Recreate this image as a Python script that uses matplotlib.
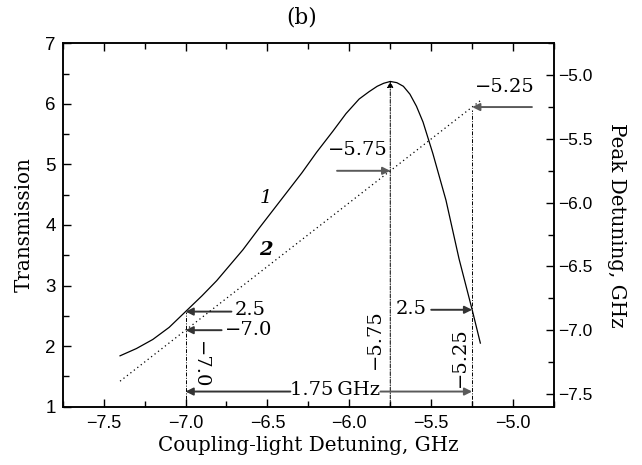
import matplotlib
matplotlib.use("Agg")
import matplotlib.pyplot as plt
from matplotlib.ticker import MultipleLocator, FixedLocator

# ---- data ----
coupling_x = [-7.40, -7.30, -7.20, -7.10, -7.00, -6.90, -6.81, -6.65, -6.55, -6.45, -6.29,
              -6.20, -6.10, -6.02, -5.94, -5.88, -5.83, -5.79, -5.75, -5.71, -5.67, -5.63,
              -5.59, -5.55, -5.49, -5.41, -5.33, -5.25, -5.20]
transmission = [1.84, 1.96, 2.11, 2.31, 2.57, 2.83, 3.08, 3.59, 3.95, 4.30, 4.86,
                5.20, 5.55, 5.84, 6.08, 6.20, 6.29, 6.34, 6.37, 6.35, 6.29, 6.16,
                5.96, 5.70, 5.18, 4.41, 3.44, 2.60, 2.05]
line2_x = [-7.40, -5.20]
peak_detuning = [-7.40, -5.20]

xticks = [-7.5, -7.0, -6.5, -6.0, -5.5, -5.0]
yticks_left = [1, 2, 3, 4, 5, 6, 7]
yticks_right = [-7.5, -7.0, -6.5, -6.0, -5.5, -5.0]

SERIF = ["DejaVu Serif"]
TICKF = ["Liberation Sans"]

fig = plt.figure(figsize=(6.42, 4.65), dpi=100)
ax = fig.add_axes([0.0977, 0.1254, 0.7653, 0.7815])
ax2 = ax.twinx()

ax.set_xlim(-7.75, -4.75)
ax.set_ylim(1, 7)
ax2.set_ylim(-7.6, -4.75)

for a in (ax, ax2):
    for s in a.spines.values():
        s.set_linewidth(1.1)

ax.plot(coupling_x, transmission, color="black", lw=0.9)
ax2.plot(line2_x, peak_detuning, color="black", lw=0.9, linestyle=(0, (1, 2.5)))

# ticks
ax.xaxis.set_major_locator(FixedLocator(xticks))
ax.xaxis.set_minor_locator(MultipleLocator(0.25))
ax.yaxis.set_major_locator(FixedLocator(yticks_left))
ax.yaxis.set_minor_locator(MultipleLocator(0.5))
ax2.yaxis.set_major_locator(FixedLocator(yticks_right))
ax2.yaxis.set_minor_locator(MultipleLocator(0.25))

ax.tick_params(axis="x", which="both", direction="in", top=True, bottom=True, width=1.0)
ax.tick_params(axis="x", which="major", length=6, pad=6)
ax.tick_params(axis="x", which="minor", length=4)
ax.tick_params(axis="y", which="both", direction="in", left=True, right=False, width=1.0)
ax.tick_params(axis="y", which="major", length=6, pad=5)
ax.tick_params(axis="y", which="minor", length=4)
ax2.tick_params(axis="y", which="both", direction="in", right=True, left=False, width=1.0)
ax2.tick_params(axis="y", which="major", length=6, pad=3)
ax2.tick_params(axis="y", which="minor", length=4)

ax.set_xticklabels(["\u2212%.1f" % abs(v) for v in xticks], family=TICKF, fontsize=13)
ax.set_yticklabels([str(v) for v in yticks_left], family=TICKF, fontsize=13.5)
ax2.set_yticklabels(["\u2212%.1f" % abs(v) for v in yticks_right], family=TICKF, fontsize=12.5)

ax.set_xlabel("Coupling-light Detuning, GHz", family=SERIF, fontsize=14.3, labelpad=3)
ax.set_ylabel("Transmission", family=SERIF, fontsize=14.3, labelpad=8)
ax2.set_ylabel("Peak Detuning, GHz", family=SERIF, fontsize=14.3, rotation=270, labelpad=24)

fig.text(301.7 / 642, 1 - 17.5 / 465, "(b)", family=SERIF, fontsize=15.5, ha="center", va="center")

DD = (0, (4, 1.5, 1, 1.5))
# vertical dash-dot lines
ax.plot([-7.0, -7.0], [1, 2.57], color="black", lw=0.7, linestyle=DD)
ax.plot([-5.25, -5.25], [1, 5.90], color="black", lw=0.7, linestyle=DD)
ax.annotate("", xy=(-5.75, 6.37), xytext=(-5.75, 1.0),
            arrowprops=dict(arrowstyle="-|>", color="black", lw=0.7, linestyle=DD,
                            mutation_scale=9, shrinkA=0, shrinkB=0))

GRAY = "#5a5a5a"
DARK = "#333333"
AF = 14


def harrow(a, x0, x1, y, color):
    a.annotate("", xy=(x1, y), xytext=(x0, y),
               arrowprops=dict(arrowstyle="-|>", color=color, lw=1.4,
                               mutation_scale=11, shrinkA=0, shrinkB=0))


# -5.25 arrow (right axis)
harrow(ax2, -4.885, -5.25, -5.25, GRAY)
ax2.text(-5.048, -5.162, "\u22125.25", family=SERIF, fontsize=AF, ha="center", va="bottom")
# -5.75 arrow
harrow(ax2, -6.075, -5.75, -5.75, GRAY)
ax2.text(-5.947, -5.66, "\u22125.75", family=SERIF, fontsize=AF, ha="center", va="bottom")
# left 2.5 and -7.0
harrow(ax, -6.72, -7.0, 2.57, DARK)
ax.text(-6.70, 2.60, "2.5", family=SERIF, fontsize=AF, ha="left", va="center")
harrow(ax2, -6.78, -7.0, -7.0, DARK)
ax2.text(-6.757, -6.995, "\u22127.0", family=SERIF, fontsize=AF, ha="left", va="center")
# right 2.5
harrow(ax, -5.50, -5.25, 2.60, DARK)
ax.text(-5.53, 2.62, "2.5", family=SERIF, fontsize=AF, ha="right", va="center")

# rotated labels
ax.text(-6.91, 1.7, "\u22127.0", family=SERIF, fontsize=AF, rotation=270, ha="center", va="center")
ax.text(-5.845, 2.12, "\u22125.75", family=SERIF, fontsize=AF, rotation=90, ha="center", va="center")
ax.text(-5.325, 1.82, "\u22125.25", family=SERIF, fontsize=AF, rotation=90, ha="center", va="center")

# 1.75 GHz double arrow
harrow(ax, -6.36, -7.0, 1.25, DARK)
harrow(ax, -5.81, -5.25, 1.25, GRAY)
ax.text(-6.085, 1.27, "1.75\u2009GHz", family=SERIF, fontsize=AF, ha="center", va="center")

# curve labels
ax.text(-6.51, 4.44, "1", family=SERIF, fontsize=AF, style="italic", ha="center", va="center")
ax.text(-6.51, 3.59, "2", family=SERIF, fontsize=AF, style="italic", fontweight="bold",
        ha="center", va="center")

fig.savefig("out.png", dpi=100)
